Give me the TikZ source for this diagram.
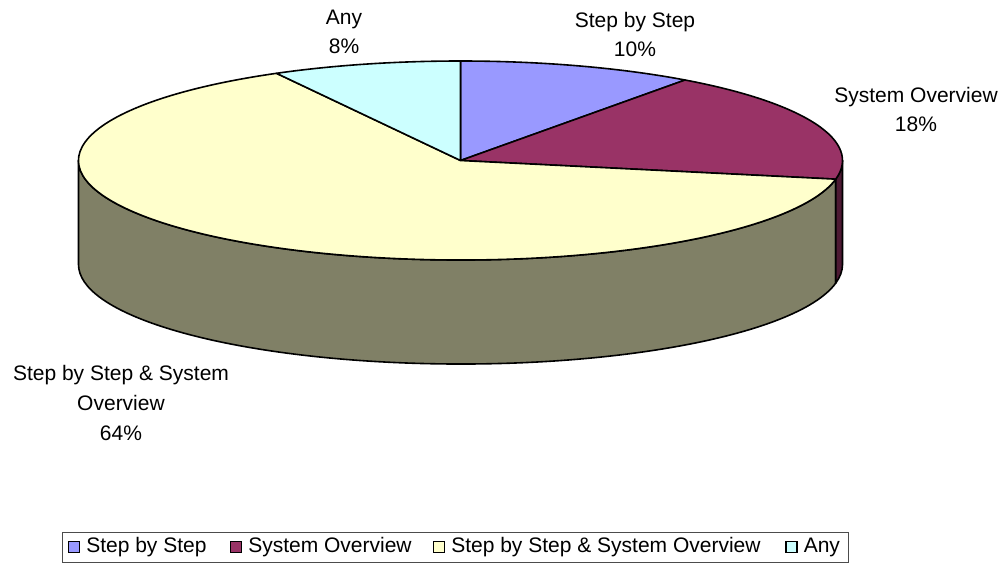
\documentclass[tikz,border=0pt]{standalone}
\usepackage{fontspec}
\setmainfont{Liberation Sans}
\definecolor{stepcol}{RGB}{153,153,255}
\definecolor{syscol}{RGB}{153,51,102}
\definecolor{bothcol}{RGB}{255,255,204}
\definecolor{anycol}{RGB}{204,255,255}
\definecolor{bothside}{RGB}{128,128,102}
\definecolor{sysside}{RGB}{77,26,51}
\begin{document}
\begin{tikzpicture}[x=1pt,y=1pt,
  slice/.style={draw=black, line width=1.6pt, line join=round},
  rad/.style={x radius=382pt, y radius=99.5pt},
  lbl/.style={align=center, font=\fontsize{21}{29}\selectfont, inner sep=0pt},
  key/.style={draw=black, line width=1.2pt, minimum size=11pt, inner sep=0pt},
  keytext/.style={anchor=west, font=\fontsize{21}{25}\selectfont, inner sep=0pt}]
\useasboundingbox (0,0) rectangle (1008,-571);
\coordinate (C) at (460.5,-160.5);

% front rim of the pie
\filldraw[slice, fill=bothside] (C) ++(180:382pt and 99.5pt)
  arc[start angle=180, end angle=349.2, rad]
  -- ++(0,-104)
  arc[start angle=349.2, end angle=180, rad] -- cycle;
\filldraw[slice, fill=sysside] (C) ++(349.2:382pt and 99.5pt)
  arc[start angle=349.2, end angle=360, rad]
  -- ++(0,-104)
  arc[start angle=360, end angle=349.2, rad] -- cycle;

% top faces of the slices
\filldraw[slice, fill=stepcol] (C) -- ++(54:382pt and 99.5pt)
  arc[start angle=54, end angle=90, rad] -- cycle;
\filldraw[slice, fill=syscol] (C) -- ++(-10.8:382pt and 99.5pt)
  arc[start angle=-10.8, end angle=54, rad] -- cycle;
\filldraw[slice, fill=bothcol] (C) -- ++(118.8:382pt and 99.5pt)
  arc[start angle=118.8, end angle=349.2, rad] -- cycle;
\filldraw[slice, fill=anycol] (C) -- ++(90:382pt and 99.5pt)
  arc[start angle=90, end angle=118.8, rad] -- cycle;

% data labels
\node[lbl] (lstep) at (635,-34) {Step by Step\\10\%};
\node[lbl] (lany) at (344,-32) {Any\\8\%};
\node[lbl] (lsys) at (916,-109) {System Overview\\18\%};
\node[lbl, font=\fontsize{21}{30}\selectfont] (lboth) at (121,-403)
  {Step by Step \& System\\Overview\\64\%};

% legend
\node[draw=black!70, line width=1pt, minimum width=786pt, minimum height=30pt,
  inner sep=0pt] (legend) at (455,-547) {};
\node[key, fill=stepcol] (k1) at (74,-547) {};
\node[keytext] (t1) at ([xshift=6pt]k1.east) {Step by Step};
\node[key, fill=syscol] (k2) at (236,-547) {};
\node[keytext] (t2) at ([xshift=6pt]k2.east) {System Overview};
\node[key, fill=bothcol] (k3) at (439,-547) {};
\node[keytext] (t3) at ([xshift=6pt]k3.east) {Step by Step \& System Overview};
\node[key, fill=anycol] (k4) at (791.5,-547) {};
\node[keytext] (t4) at ([xshift=6pt]k4.east) {Any};
\end{tikzpicture}
\end{document}
